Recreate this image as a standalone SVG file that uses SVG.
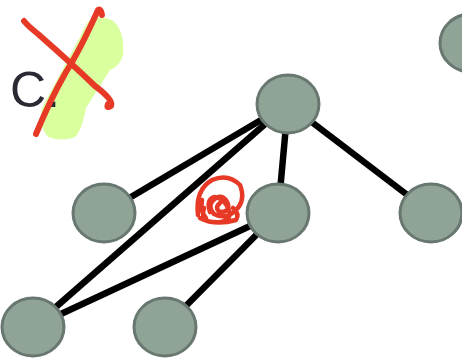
<svg xmlns="http://www.w3.org/2000/svg" width="462" height="358" viewBox="0 0 462 358">
<style>
.node{fill:#8fa397;stroke:#68776f;stroke-width:3}
.edge{stroke:#000;stroke-width:6.5;fill:none}
.ink{fill:none;stroke:#e63a27;stroke-linecap:round;stroke-linejoin:round}
</style>
<rect width="462" height="358" fill="#fff"/>
<path d="M90,20 Q100,15 112,20 Q125,30 123,55 Q120,66 110,70 L86,108 Q82,130 75,137 Q63,142 48,137 Q38,125 42,108 L80,37 Q85,25 90,20 Z" fill="#daff9e"/>
<text x="10" y="107" font-family="Liberation Sans, Arial, sans-serif" font-size="50" fill="#2a2a35">C.</text>
<g id="connectors">
<line class="edge" x1="288" y1="104" x2="104" y2="213"/>
<line class="edge" x1="288" y1="104" x2="33" y2="327"/>
<line class="edge" x1="288" y1="104" x2="278" y2="213"/>
<line class="edge" x1="288" y1="104" x2="431" y2="213"/>
<line class="edge" x1="278" y1="213" x2="33" y2="327"/>
<line class="edge" x1="278" y1="213" x2="165" y2="327"/>
</g>
<g id="n-top"><ellipse class="node" cx="288" cy="104" rx="31" ry="29"/></g>
<g id="n-topright"><ellipse class="node" cx="471" cy="43" rx="31" ry="29"/></g>
<g id="n-left"><ellipse class="node" cx="104" cy="213" rx="31" ry="29"/></g>
<g id="n-center"><ellipse class="node" cx="278" cy="213" rx="31" ry="29"/></g>
<g id="n-right"><ellipse class="node" cx="431" cy="213" rx="31" ry="29"/></g>
<g id="n-bl"><ellipse class="node" cx="33" cy="327" rx="31" ry="29"/></g>
<g id="n-bm"><ellipse class="node" cx="165" cy="327" rx="31" ry="29"/></g>
<path class="ink" stroke-width="6" d="M24,21 Q28,26 38,34 Q70,62 95,86 Q114,100 111,106 Q106,109 108,104"/>
<path class="ink" stroke-width="6" d="M102,15 Q101,8 98,10 Q80,50 66,72 Q50,100 36,134"/>
<path class="ink" stroke-width="4.5" d="M198,215 Q195,190 212,180 Q228,173 240,185 Q246,200 236,210 Q226,220 214,214 Q206,205 216,198 Q224,194 228,204 Q230,212 220,212 Q214,208 220,203 M200,218 Q215,226 236,220 Q240,214 233,208 M204,208 Q200,222 214,222 Q228,224 230,214 Q226,198 214,197 Q206,200 210,212 M202,200 Q200,212 206,218"/>
</svg>
